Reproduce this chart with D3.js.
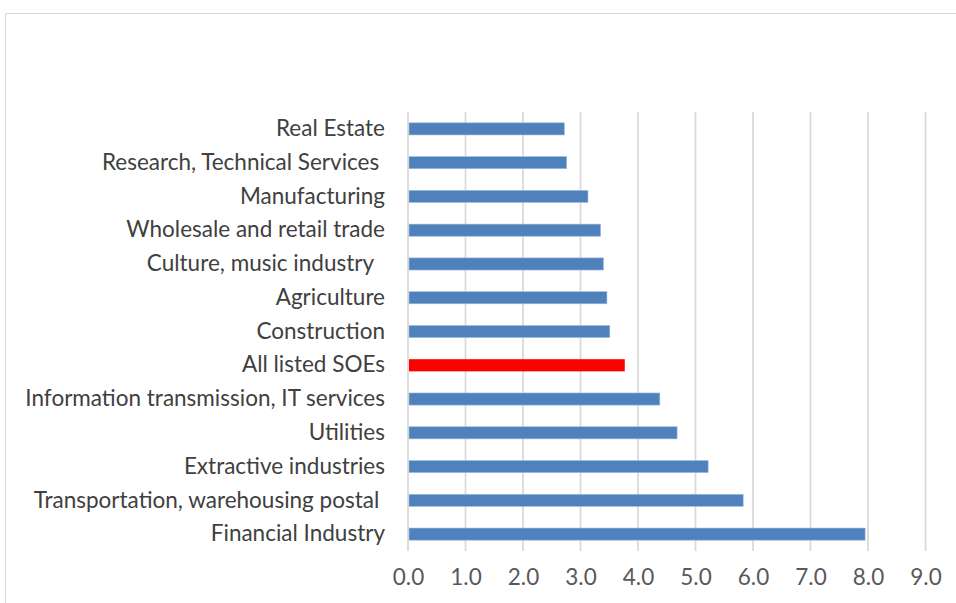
<!DOCTYPE html>
<html>
<head>
<meta charset="utf-8">
<script src="https://cdn.jsdelivr.net/npm/d3@7"></script>
<style>
  html, body { margin: 0; padding: 0; background: #fff; }
  svg { display: block; }
</style>
</head>
<body>
<svg id="chart" width="956" height="603"></svg>
<script>
// Industries, top to bottom
const categories = [
  "Real Estate",
  "Research, Technical Services ",
  "Manufacturing",
  "Wholesale and retail trade",
  "Culture, music industry  ",
  "Agriculture",
  "Construction",
  "All listed SOEs",
  "Information transmission, IT services",
  "Utilities",
  "Extractive industries",
  "Transportation, warehousing postal ",
  "Financial Industry"
];
const values = [2.72, 2.76, 3.13, 3.35, 3.40, 3.46, 3.51, 3.77, 4.38, 4.68, 5.22, 5.83, 7.95];
const highlighted = ["All listed SOEs"];
const xTicks = [0, 1, 2, 3, 4, 5, 6, 7, 8, 9];

const svg = d3.select("#chart");
const fontFamily = "Lato, 'Open Sans', sans-serif";

// outer chart frame
svg.append("rect")
  .attr("x", 5.5).attr("y", 13.5)
  .attr("width", 1000).attr("height", 700)
  .attr("fill", "#fff")
  .attr("stroke", "#d9d9d9")
  .attr("stroke-width", 1);

const plot = { left: 408, right: 925.5, top: 112, bottom: 551 };

const x = d3.scaleLinear().domain([0, 9]).range([plot.left, plot.right]);
const y = d3.scaleBand().domain(categories).range([plot.top, plot.bottom]).paddingInner(0.64).paddingOuter(0.32);

// vertical gridlines
svg.append("g")
  .selectAll("line")
  .data(xTicks)
  .join("line")
  .attr("x1", d => x(d)).attr("x2", d => x(d))
  .attr("y1", plot.top).attr("y2", plot.bottom)
  .attr("stroke", "#d9d9d9")
  .attr("stroke-width", 1.75);

// bars
svg.append("g")
  .selectAll("rect")
  .data(categories.map((c, i) => ({ c, v: values[i] })))
  .join("rect")
  .attr("x", x(0) + 1)
  .attr("y", d => y(d.c))
  .attr("width", d => x(d.v) - x(0) - 1)
  .attr("height", y.bandwidth())
  .attr("fill", d => highlighted.includes(d.c) ? "#ff0000" : "#4f81bd")
  .attr("stroke", d => highlighted.includes(d.c) ? "none" : "#a7bfdd")
  .attr("stroke-width", 0.6);

// category labels
const yAxis = d3.axisLeft(y).tickSize(0).tickPadding(23);
const gy = svg.append("g").attr("transform", `translate(${plot.left},0)`).call(yAxis);
gy.select(".domain").remove();
gy.selectAll("text")
  .attr("font-family", fontFamily)
  .attr("font-size", 22.5)
  .attr("fill", "#404040")
  .style("white-space", "pre");

// value axis labels
const xAxis = d3.axisBottom(x).tickValues(xTicks).tickFormat(d3.format(".1f")).tickSize(0).tickPadding(18);
const gx = svg.append("g").attr("transform", `translate(0,${plot.bottom})`).call(xAxis);
gx.select(".domain").remove();
gx.selectAll("text")
  .attr("font-family", fontFamily)
  .attr("font-size", 22.5)
  .attr("fill", "#595959");
</script>
</body>
</html>
